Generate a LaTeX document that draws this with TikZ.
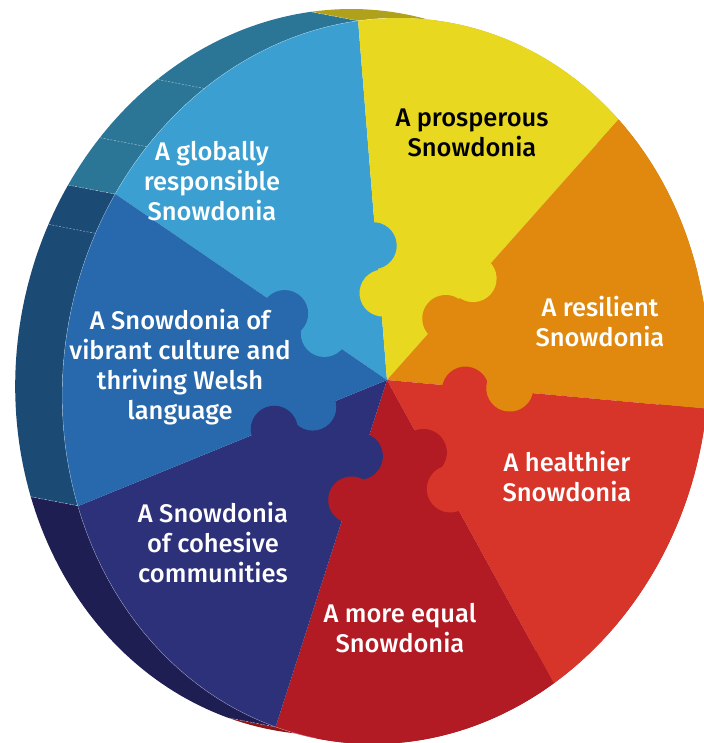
\documentclass[tikz,border=0pt]{standalone}
\usepackage{fontspec}
\newfontfamily\lab{Fira Sans Medium}
\usetikzlibrary{calc}
\definecolor{lbF}{HTML}{3BA0D1}
\definecolor{yF}{HTML}{E8D820}
\definecolor{oF}{HTML}{E0890E}
\definecolor{rF}{HTML}{D8352A}
\definecolor{drF}{HTML}{B21B23}
\definecolor{nvF}{HTML}{2D3179}
\definecolor{dbF}{HTML}{2769AC}
\definecolor{lbS}{HTML}{2B7596}
\definecolor{yS}{HTML}{AFA11B}
\definecolor{oS}{HTML}{A8650A}
\definecolor{rS}{HTML}{A32820}
\definecolor{drS}{HTML}{8E1518}
\definecolor{nvS}{HTML}{1F1E52}
\definecolor{dbS}{HTML}{1B4A74}
\begin{document}
\begin{tikzpicture}[x=1pt,y=-1pt,
  lbl/.style={font=\lab\fontsize{25.5}{30}\selectfont, text=white, align=center, inner sep=0pt},
  bandline/.style={white, opacity=0.55, line width=0.5pt, dash pattern=on 2pt off 1.5pt},
  facegeom/.style={shift={(385.4,381)}, cm={1,0,0.0347,1,(0,0)}}]
\useasboundingbox (0,0) rectangle (703,743);
\coordinate (pc) at (387,380);
% side band (thickness of the disc)
\begin{scope}[facegeom]
  \foreach \ta/\tb/\col in {-149/-97.1/lbS, -97.1/-46.05/yS, -46.05/4.41/oS, 4.41/56.4/rS, 56.4/107.6/drS, 107.6/159.9/nvS, 159.9/211/dbS} {
    \fill[\col] plot[domain=\ta:\tb, samples=40] ({323*cos(\x)},{363*sin(\x)})
      -- plot[domain=\tb:\ta, samples=40] ({323*cos(\x)-47.3},{363*sin(\x)-9}) -- cycle;
  }
  \foreach \t in {-97.1,-149,159.9,107.6,-126.3,-139.8,204} {
    \draw[bandline] ({323*cos(\t)},{363*sin(\t)}) -- ++(-47.3,-9);
  }
\end{scope}
% face
\begin{scope}
  \clip[facegeom] (0,0) ellipse [x radius=323, y radius=363];
  \foreach \a/\b/\col in {-145.6/-94.6/lbF, -94.6/-48.36/yF, -48.36/5.16/oF, 5.16/61.2/rF, 61.2/107.8/drF, 107.8/157.8/nvF, 157.8/214.4/dbF} {
    \fill[\col] (pc) -- +(\a:800) -- +({(\a+\b)/2}:1000) -- +(\b:800) -- cycle;
  }
  \foreach \r/\si/\so/\cin/\cout in {94.6/87/135/yF/lbF, 48.36/85/133/oF/yF, -5.16/79/123/rF/oF, -61.2/81/126/drF/rF, -107.8/81/125/nvF/drF, -157.8/79/123/dbF/nvF, 145.6/78/122/lbF/dbF} {
    \begin{scope}[shift={(pc)}, rotate=\r]
      \fill[\cin] (\si,3) circle (23.5);
      \fill[\cout] (\so,-3) circle (23.5);
    \end{scope}
  }
\end{scope}
\draw[facegeom, white, opacity=0.45, line width=0.4pt] plot[domain=100:268, samples=80] ({323*cos(\x)},{363*sin(\x)});
% labels
\node[lbl] (t1) at (212,181) {A globally\\responsible\\Snowdonia};
\node[lbl, text=black] (t2) at (472,133) {A prosperous\\Snowdonia};
\node[lbl] (t3) at (600,321.5) {A resilient\\Snowdonia};
\node[lbl] (t4) at (567,476.5) {A healthier\\Snowdonia};
\node[lbl] (t5) at (400,628) {A more equal\\Snowdonia};
\node[lbl] (t6) at (213,543) {A Snowdonia\\of cohesive\\communities};
\node[lbl] (t7) at (180,367) {A Snowdonia of\\vibrant culture and\\thriving Welsh\\language};
\end{tikzpicture}
\end{document}
